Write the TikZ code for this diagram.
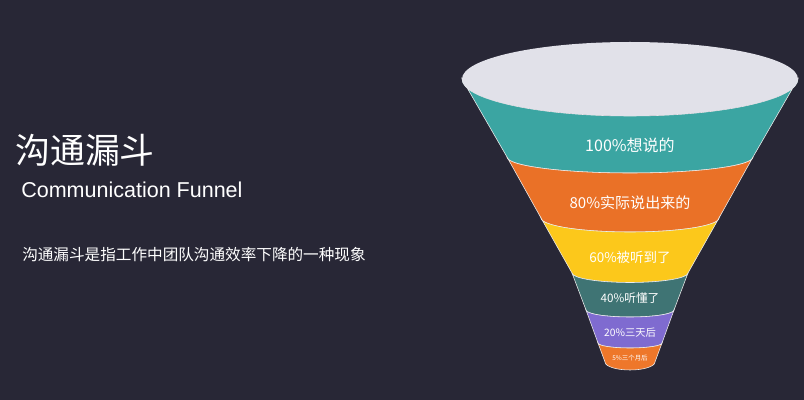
\documentclass[tikz,border=0pt]{standalone}
\usepackage{fontspec}
\setmainfont{Noto Sans CJK SC}
\newfontfamily\latinfont{Liberation Sans}
\usetikzlibrary{positioning}
\definecolor{bgnavy}{HTML}{282736}
\definecolor{lidgray}{HTML}{E1E1E9}
\definecolor{fteal}{HTML}{3BA5A2}
\definecolor{forange}{HTML}{EA7127}
\definecolor{fyellow}{HTML}{FCC81B}
\definecolor{fdarkteal}{HTML}{3F7474}
\definecolor{fpurple}{HTML}{7F6BD0}
\definecolor{forange2}{HTML}{EE772A}

% one slice of the funnel: colour, top y, top half width, top sag, bottom y, bottom half width, bottom sag
\newcommand{\fband}[7]{%
  \filldraw[band=#1] ({630-#3},#2) -- ({630-#6},#5)
    arc[start angle=180, end angle=0, x radius=#6, y radius=#7]
    -- ({630+#3},#2)
    arc[start angle=0, end angle=180, x radius=#3, y radius=#4] -- cycle;}
\newcommand{\fs}[1]{\fontsize{#1}{#1}\selectfont}

\begin{document}
\begin{tikzpicture}[x=0.025cm, y=-0.025cm,
		band/.style={fill=#1, draw=white!85!gray, line width=0.4pt},
		lbl/.style={text=white, inner sep=0pt}
		]
		\fill[bgnavy] (0,0) rectangle (804,400);
		\useasboundingbox (0,0) rectangle (804,400);
		
		\fband{fteal}{79}{168}{37}{157}{123}{16}
		\fband{forange}{157}{123}{16}{218}{89}{14}
		\fband{fyellow}{218}{89}{14}{273}{58}{9.5}
		\fband{fdarkteal}{273}{58}{9.5}{310}{44}{7}
		\fband{fpurple}{310}{44}{7}{343}{32}{5}
		\fband{forange2}{343}{32}{5}{362}{25}{8}
		\fill[lidgray] (630,79) ellipse[x radius=168, y radius=37];
		
		\begin{scope}[nodes=lbl]
			\node[font=\fs{11.4}] (p100) at (630,145) {100\%想说的};
			\node[font=\fs{10.7}] (p80) at (630,203) {80\%实际说出来的};
			\node[font=\fs{9.6}] (p60) at (630,257) {60\%被听到了};
			\node[font=\fs{8.3}] (p40) at (630,298) {40\%听懂了};
			\node[font=\fs{7.3}] (p20) at (630,333) {20\%三天后};
			\node[font=\fs{4.6}] (p5) at (630,358) {5\%三个月后};
			
			\node[anchor=west, font=\fs{24.8}] (title) at (15,150) {沟通漏斗};
			\node[anchor=west, font=\latinfont\fs{15.3}] (subtitle) at (21,190) {Communication Funnel};
			\node[anchor=west, font=\fs{11.1}] (desc) at (22,255) {沟通漏斗是指工作中团队沟通效率下降的一种现象};
		\end{scope}
	\end{tikzpicture}
\end{document}
